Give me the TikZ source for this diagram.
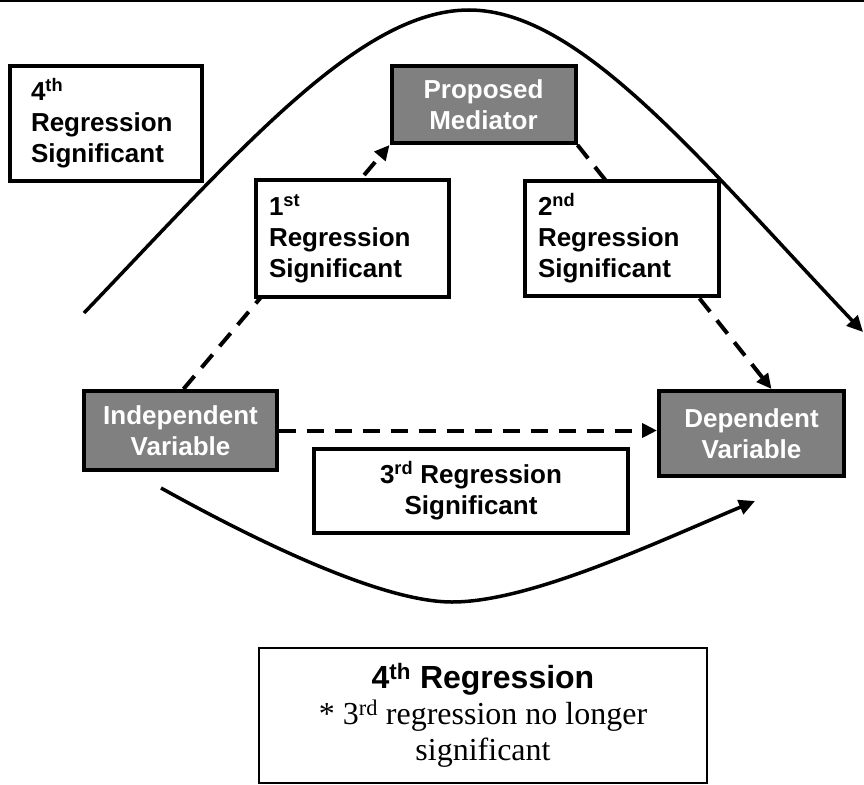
\documentclass[tikz,border=0pt]{standalone}
\usepackage{fontspec}
\setmainfont{Liberation Serif}
\setsansfont{Liberation Sans}
\usetikzlibrary{arrows.meta, backgrounds, calc}
\definecolor{vargray}{RGB}{128,128,128}

\begin{document}
\begin{tikzpicture}[
    x=1pt, y=-1pt,
    regbox/.style={draw, line width=3.5pt, fill=white, align=left, inner ysep=0pt,
        font={\sffamily\bfseries\fontsize{26}{31}\selectfont}},
    varbox/.style={draw, line width=4pt, fill=vargray, text=white, align=center, inner sep=0pt,
        font={\sffamily\bfseries\fontsize{26}{31}\selectfont}},
    link/.style={line width=4pt, dash pattern=on 17pt off 11pt, -{Triangle[length=15pt,width=14pt]}},
    curve/.style={line width=3.5pt, -{Triangle[length=16pt,width=15pt]}}
]
    \useasboundingbox (0,0) rectangle (864,784);

    % Top rule
    \draw[line width=3pt] (0,1) -- (864,1);

    % Regression boxes
    \node[regbox, text width=150pt, inner xsep=21pt, minimum height=115pt] (fourth) at (106,123.5) {4\textsuperscript{th}\\Regression\\Significant};
    \node[regbox, text width=167pt, inner xsep=13pt, minimum height=117pt] (first) at (352.5,238.5) {1\textsuperscript{st}\\Regression\\Significant};
    \node[regbox, text width=168pt, inner xsep=13pt, minimum height=115pt] (second) at (622,238.5) {2\textsuperscript{nd}\\Regression\\Significant};
    \node[regbox, align=center, minimum width=314pt, minimum height=84pt] (third) at (471,491) {3\textsuperscript{rd} Regression\\Significant};

    % Variables
    \node[varbox, minimum width=184pt, minimum height=77pt] (med) at (483.5,104.5) {Proposed\\Mediator};
    \node[varbox, minimum width=193pt, minimum height=79pt] (iv) at (180.5,430.5) {Independent\\Variable};
    \node[varbox, minimum width=185pt, minimum height=85pt] (dv) at (751.5,433.5) {Dependent\\Variable};

    % Note
    \node[draw, line width=1.5pt, minimum width=448pt, minimum height=135pt, align=center, inner sep=0pt,
        font=\fontsize{32}{36}\selectfont] (fourthreg) at (483,715.5)
        {{\sffamily\bfseries 4\textsuperscript{th} Regression}\\ {*} 3\textsuperscript{rd} regression no longer\\significant};

    % Paths
    \begin{scope}[on background layer]
        \draw[link] ([xshift=3pt]iv.north) -- (med.south west);
        \draw[link] (med.south east) -- ([xshift=20pt]dv.north);
        \draw[link] (iv.east) -- (iv.east -| dv.west);

        \coordinate (arcstart) at (84,313);
        \coordinate (arcend) at (863,332);
        \draw[curve] (arcstart) .. controls (240,150) and (360,10) .. (469,10)
            .. controls (580,10) and (700,160) .. (arcend);

        \coordinate (lowstart) at (161,488);
        \coordinate (lowend) at (755,501);
        \draw[curve] (lowstart) .. controls (251,538) and (380,602) .. (452,602)
            .. controls (530,602) and (655,543) .. (lowend);
    \end{scope}
\end{tikzpicture}
\end{document}
